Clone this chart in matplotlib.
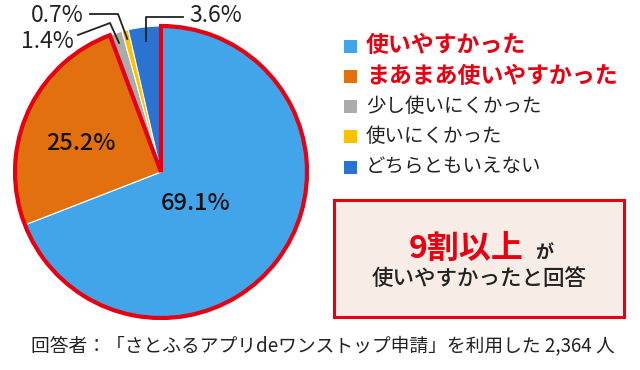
import numpy as np
import matplotlib
matplotlib.use("Agg")
import matplotlib.pyplot as plt
from matplotlib.patches import Wedge, Rectangle

plt.rcParams['font.family'] = ['Noto Sans CJK JP', 'DejaVu Sans']

# data
labels = ['使いやすかった', 'まあまあ使いやすかった', '少し使いにくかった', '使いにくかった', 'どちらともいえない']
values = [69.1, 25.2, 1.4, 0.7, 3.6]
colors = ['#42a5ea', '#e2700e', '#ababab', '#ffc000', '#2a73d0']
highlight = [True, True, False, False, False]
footer = '回答者：「さとふるアプリdeワンストップ申請」を利用した 2,364 人'

RED = '#e60012'
W, H = 640, 370

fig = plt.figure(figsize=(6.4, 3.7), dpi=100)
ax = fig.add_axes([0, 0, 1, 1])

def py(y):
    # pixel row -> data y
    return H - y

cx, cy, R = 161, py(172), 146

wedges, _ = ax.pie(values, colors=colors, startangle=90, counterclock=False,
                   center=(cx, cy), radius=R, frame=True,
                   wedgeprops=dict(edgecolor='white', linewidth=0.8))
ax.set_xlim(0, W)
ax.set_ylim(0, H)
ax.set_aspect('auto')
ax.axis('off')

# red outline around the "easy to use" slices
frac = np.array(values) / sum(values)
top = sum(f for f, h in zip(frac, highlight) if h)
ax.add_patch(Wedge((cx, cy), R, 90 - 360 * top, 90, fill=False,
                   edgecolor=RED, linewidth=3, joinstyle='miter'))

# slice mid angles
ends = 90 - 360 * np.cumsum(frac)
starts = np.concatenate([[90], ends[:-1]])
mids = np.deg2rad((starts + ends) / 2)

def pt(i, r):
    return cx + R * r * np.cos(mids[i]), cy + R * r * np.sin(mids[i])

# inner labels
ax.text(196, py(204), f'{values[0]}%', fontsize=17, fontweight='medium',
        ha='center', va='center', color='#111111')
ax.text(81, py(143), f'{values[1]}%', fontsize=17, fontweight='medium',
        ha='center', va='center', color='#111111')

# outside labels with leader lines
lk = dict(color='#222222', linewidth=1.3)
tk = dict(fontsize=16.5, va='center', color='#222222')
x0, y0 = pt(2, 0.93)
ax.plot([x0, 110, 78], [y0, py(23), py(35)], **lk)
ax.text(74, py(41), f'{values[2]}%', ha='right', **tk)

x0, y0 = pt(3, 0.94)
ax.plot([x0, 118, 90], [y0, py(14), py(14)], **lk)
ax.text(84, py(15), f'{values[3]}%', ha='right', **tk)

x0, y0 = pt(4, 0.9)
ax.plot([x0, x0, 183], [y0, py(17), py(17)], **lk)
ax.text(189, py(15), f'{values[4]}%', ha='left', **tk)

# legend
for i, (lab, col, hl) in enumerate(zip(labels, colors, highlight)):
    yc = 46 + i * 30.3
    ax.add_patch(Rectangle((344, py(yc) - 6.5), 13, 13, facecolor=col, edgecolor='none'))
    if hl:
        ax.text(366, py(yc), lab, fontsize=16.5, fontweight='bold', color=RED,
                ha='left', va='center')
    else:
        ax.text(366, py(yc), lab, fontsize=14, color='#222222',
                ha='left', va='center')

# callout box
ax.add_patch(Rectangle((334, py(317)), 290, 117, facecolor='#f7ece6',
                       edgecolor=RED, linewidth=2.2))
ax.text(524, py(258), '9割以上', fontsize=23, fontweight='bold', color=RED,
        ha='right', va='baseline')
ax.text(535, py(258), 'が', fontsize=13, fontweight='bold', color='#222222',
        ha='left', va='baseline')
ax.text(479, py(279), '使いやすかったと回答', fontsize=15.5, fontweight='medium',
        color='#222222', ha='center', va='center')

# footer
ax.text(323, py(346), footer, fontsize=13.5, color='#222222', ha='center', va='center')

fig.savefig('out.png', dpi=100)
